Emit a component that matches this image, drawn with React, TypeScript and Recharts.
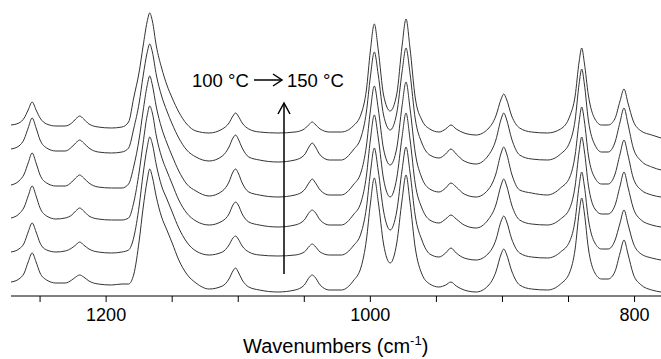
import { LineChart, Line, XAxis, YAxis } from 'recharts';

// wavenumber grid (cm-1), high to low
const wn = [
    1272, 1266, 1262, 1259, 1256, 1253, 1250, 1245, 1238,
    1231, 1226, 1223, 1220, 1217, 1213, 1206, 1196,
    1188, 1183, 1179, 1175, 1172, 1169, 1167, 1165, 1162, 1158, 1154, 1150, 1145, 1139, 1132, 1122,
    1112, 1107, 1104, 1102, 1100, 1097, 1092, 1084,
    1070, 1057, 1050, 1046, 1044, 1042, 1038, 1031, 1022,
    1013, 1007, 1003, 1000, 997, 994, 990, 985, 980, 976, 973, 970, 966, 961, 955,
    948, 943, 939, 935, 929, 920,
    911, 905, 901, 899, 897, 893, 887, 878, 866,
    856, 849, 845, 842, 840, 838, 835, 830, 825, 820, 815, 811, 808, 805, 801, 795, 787, 780,
];

// stacked absorbance traces (arbitrary units, offset), bottom = 100 °C
const t100 = [
    14, 17, 23, 34, 43, 34, 23, 16, 13,
    13, 16, 19, 21, 19, 15, 12, 11,
    12, 12, 22, 55, 88, 115, 127, 119, 99, 79, 66, 53, 36, 22, 13, 7,
    10, 17, 25, 28, 24, 16, 9, 6,
    4, 6, 11, 19, 21, 19, 11, 6, 6,
    15, 29, 56, 92, 118, 94, 52, 33, 53, 96, 121, 94, 48, 22, 12,
    9, 11, 14, 10, 6, 4,
    10, 24, 42, 47, 42, 25, 11, 7, 6,
    12, 24, 47, 83, 98, 83, 48, 23, 17, 17, 24, 43, 56, 42, 22, 11, 6, 4,
];
const t110 = [
    44, 47, 53, 64, 73, 64, 53, 46, 44,
    45, 48, 51, 54, 51, 47, 44, 43,
    44, 46, 59, 90, 122, 148, 159, 152, 131, 110, 97, 84, 68, 54, 45, 41,
    44, 51, 58, 60, 57, 50, 44, 41,
    40, 41, 44, 50, 52, 50, 44, 41, 41,
    50, 63, 88, 123, 148, 125, 85, 66, 85, 126, 149, 124, 80, 56, 42,
    39, 43, 48, 43, 38, 36,
    42, 56, 75, 80, 75, 57, 43, 39, 38,
    44, 55, 76, 110, 124, 110, 77, 53, 47, 47, 55, 73, 86, 72, 53, 42, 38, 36,
];
const t120 = [
    78, 82, 89, 100, 110, 100, 88, 80, 77,
    78, 81, 85, 88, 85, 80, 77, 76,
    76, 78, 94, 124, 153, 180, 190, 183, 160, 139, 125, 112, 96, 83, 75, 71,
    75, 82, 91, 94, 91, 82, 74, 71,
    69, 71, 76, 84, 86, 84, 76, 71, 71,
    81, 94, 120, 156, 181, 158, 117, 99, 118, 159, 183, 157, 112, 88, 76,
    73, 77, 81, 77, 71, 68,
    76, 91, 111, 117, 111, 91, 76, 72, 71,
    77, 88, 110, 144, 159, 145, 111, 87, 82, 82, 90, 110, 124, 109, 88, 76, 71, 69,
];
const t130 = [
    111, 115, 122, 133, 143, 133, 121, 113, 110,
    110, 114, 118, 121, 118, 113, 109, 108,
    108, 112, 130, 157, 185, 210, 220, 211, 189, 168, 153, 140, 125, 112, 105, 100,
    105, 114, 124, 127, 123, 113, 104, 101,
    99, 101, 106, 114, 117, 114, 106, 101, 101,
    111, 124, 150, 185, 210, 187, 147, 131, 148, 190, 214, 188, 143, 118, 107,
    104, 108, 113, 109, 102, 99,
    106, 122, 143, 149, 143, 122, 106, 103, 101,
    108, 119, 141, 174, 189, 175, 141, 118, 112, 112, 121, 142, 156, 141, 118, 106, 101, 99,
];
const t140 = [
    147, 150, 157, 168, 178, 168, 156, 148, 145,
    145, 149, 153, 156, 153, 148, 144, 143,
    144, 148, 168, 193, 220, 243, 252, 244, 221, 200, 185, 172, 158, 146, 139, 135,
    140, 149, 158, 161, 157, 148, 139, 136,
    134, 136, 141, 150, 153, 150, 141, 136, 136,
    146, 159, 184, 219, 244, 221, 181, 166, 183, 224, 248, 223, 177, 153, 141,
    138, 142, 147, 142, 135, 132,
    140, 156, 177, 183, 177, 157, 141, 137, 136,
    142, 154, 176, 212, 227, 212, 176, 151, 144, 144, 153, 174, 188, 172, 148, 135, 129, 126,
];
const t150 = [
    171, 173, 178, 186, 194, 186, 178, 172, 170,
    170, 173, 177, 180, 177, 172, 169, 168,
    169, 174, 199, 224, 250, 274, 283, 275, 250, 228, 211, 198, 184, 172, 165, 163,
    167, 173, 180, 183, 180, 173, 167, 164,
    163, 164, 167, 172, 174, 172, 167, 164, 164,
    170, 182, 206, 245, 272, 246, 201, 185, 202, 250, 277, 248, 198, 176, 167,
    164, 167, 171, 167, 163, 161,
    167, 180, 197, 202, 197, 180, 168, 164, 163,
    167, 180, 200, 234, 248, 233, 201, 177, 171, 171, 177, 195, 207, 193, 175, 165, 161, 158,
];

const xTicks = [1250, 1200, 1150, 1100, 1050, 1000, 950, 900, 850, 800];
const xLabels = [1200, 1000, 800];

const series = [
    { key: 't100', values: t100 },
    { key: 't110', values: t110 },
    { key: 't120', values: t120 },
    { key: 't130', values: t130 },
    { key: 't140', values: t140 },
    { key: 't150', values: t150 },
];

const data = wn.map((w, i) => {
    const row: Record<string, number> = { w };
    series.forEach(s => { row[s.key] = s.values[i]; });
    return row;
});

const font = '"Liberation Sans", Arial, sans-serif';

export default function App() {
    return (
        <div style={{ position: 'absolute', left: 0, top: 0, width: 661, height: 359, background: '#fff' }}>
            <LineChart width={661} height={359} data={data}
                margin={{ top: 6, right: 0, left: 11, bottom: 33 }}
            >
                <XAxis dataKey="w" type="number" domain={[780, 1272]} reversed
                    ticks={xTicks} interval={0} height={30}
                    tickFormatter={(v: number) => xLabels.includes(v) ? String(v) : ''}
                    tickSize={6} tickMargin={6}
                    stroke="#000" tickLine={{ stroke: '#000' }}
                    tick={{ fill: '#000', fontSize: 18, fontFamily: font }}
                />
                <YAxis hide domain={[0, 290]} />
                {series.map(s => (
                    <Line key={s.key} dataKey={s.key} type="monotone" stroke="#333"
                        strokeWidth={1} dot={false} isAnimationActive={false} />
                ))}
            </LineChart>
            <svg width={661} height={359} style={{ position: 'absolute', left: 0, top: 0, pointerEvents: 'none' }}>
                <g fontFamily={font} fill="#000">
                    <text x={192} y={87} fontSize={18.5}>100 °C</text>
                    <text x={287} y={87} fontSize={18.5}>150 °C</text>
                    <text x={243} y={353} fontSize={20}>
                        Wavenumbers (cm<tspan dy={-8} fontSize={13}>-1</tspan><tspan dy={8}>)</tspan>
                    </text>
                </g>
                <g stroke="#000" strokeWidth={1.5} fill="none">
                    <line x1={254} y1={80} x2={282} y2={80} />
                    <polyline points="273,74 282,80 273,86" />
                    <line x1={284} y1={274} x2={284} y2={104} />
                    <polyline points="278,114 284,103 290,114" />
                </g>
            </svg>
        </div>
    );
}
